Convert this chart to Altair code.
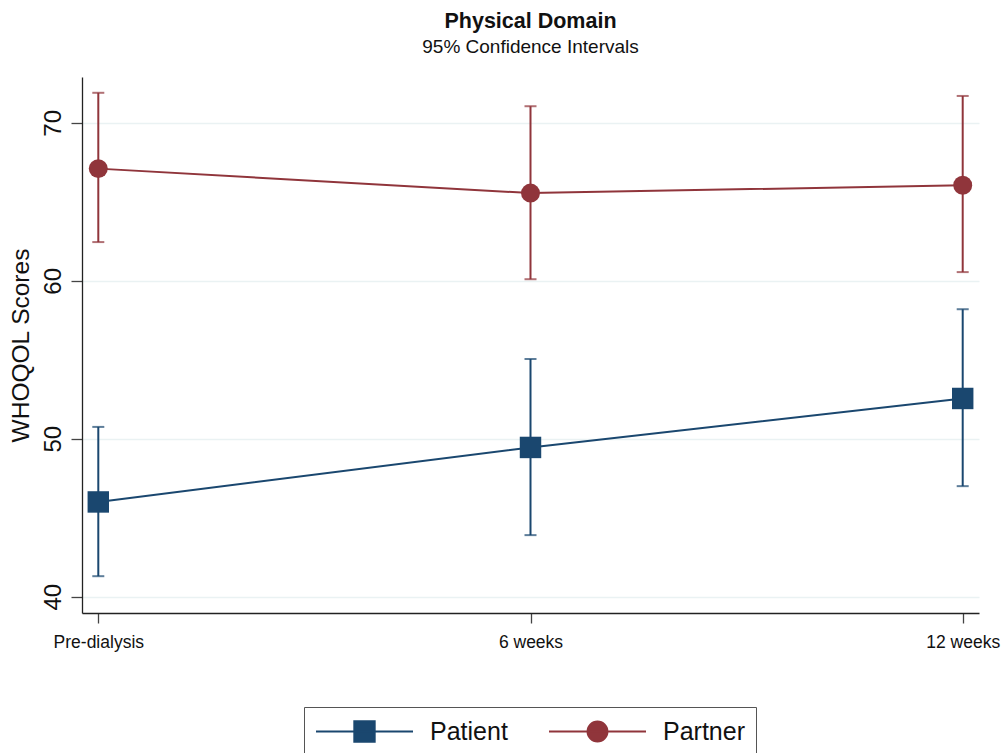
import altair as alt
import pandas as pd

# Time points and groups
timepoints = ["Pre-dialysis", "6 weeks", "12 weeks"]
series_names = ["Patient", "Partner"]
series_colors = ["#1a476f", "#90353b"]
series_shapes = ["square", "circle"]
series_marker_sizes = [460, 360]

# Mean WHOQOL physical-domain scores with 95% CI bounds
patient_mean = [46.0, 49.45, 52.55]
patient_lower = [41.3, 43.9, 47.0]
patient_upper = [50.75, 55.05, 58.2]

partner_mean = [67.1, 65.55, 66.05]
partner_lower = [62.45, 60.1, 60.55]
partner_upper = [71.9, 71.05, 71.7]

y_ticks = [40, 50, 60, 70]

rows = []
for name, means, lows, highs in [
    ("Patient", patient_mean, patient_lower, patient_upper),
    ("Partner", partner_mean, partner_lower, partner_upper),
]:
    for t, m, lo, hi in zip(timepoints, means, lows, highs):
        rows.append({"group": name, "time": t, "mean": m, "lower": lo, "upper": hi})
df = pd.DataFrame(rows)

SANS = "Liberation Sans, Arial, sans-serif"
TEXT = "#111111"

# Legend keys: a line segment with the group's marker on it
legend_square = "M-1,0H1M-0.21,-0.21H0.21V0.21H-0.21Z"
legend_circle = (
    "M-1,0H1M0.205,0C0.205,0.1132 0.1132,0.205 0,0.205"
    "C-0.1132,0.205 -0.205,0.1132 -0.205,0"
    "C-0.205,-0.1132 -0.1132,-0.205 0,-0.205"
    "C0.1132,-0.205 0.205,-0.1132 0.205,0Z"
)

x_enc = alt.X(
    "time:N",
    sort=timepoints,
    scale=alt.Scale(type="point", padding=0.0377),
    axis=alt.Axis(
        title=None,
        labelAngle=0,
        labelFont=SANS,
        labelFontSize=17.5,
        labelColor=TEXT,
        labelPadding=10,
        tickSize=10,
        tickColor="#444444",
        tickWidth=1.3,
        domainColor="#222222",
        domainWidth=1.3,
        grid=False,
    ),
)

y_scale = alt.Scale(domain=[38.97, 72.9], nice=False, zero=False)
y_axis = alt.Axis(
    title="WHOQOL Scores",
    values=y_ticks,
    labelAngle=270,
    labelAlign="center",
    labelBaseline="bottom",
    labelFont=SANS,
    labelFontSize=24,
    labelColor=TEXT,
    labelPadding=6,
    tickSize=11,
    tickColor="#444444",
    tickWidth=1.3,
    domainColor="#222222",
    domainWidth=1.3,
    grid=True,
    gridColor="#eaf2f3",
    gridWidth=1.6,
    titleFont=SANS,
    titleFontSize=24.5,
    titleFontWeight="normal",
    titleColor=TEXT,
    titlePadding=8,
)

base = alt.Chart(df)

layers = []
for name, col, shp, msize in zip(series_names, series_colors, series_shapes, series_marker_sizes):
    sub = base.transform_filter(alt.datum.group == name)
    layers += [
        # confidence interval whisker
        sub.mark_rule(color=col, strokeWidth=2).encode(
            x=x_enc, y=alt.Y("lower:Q", scale=y_scale, axis=y_axis), y2="upper:Q"
        ),
        # caps
        sub.mark_tick(color=col, size=12, thickness=2, orient="horizontal").encode(
            x=x_enc, y=alt.Y("lower:Q", scale=y_scale, axis=y_axis)
        ),
        sub.mark_tick(color=col, size=12, thickness=2, orient="horizontal").encode(
            x=x_enc, y=alt.Y("upper:Q", scale=y_scale, axis=y_axis)
        ),
        # connecting line and markers for the means
        sub.mark_line(color=col, strokeWidth=2).encode(
            x=x_enc, y=alt.Y("mean:Q", scale=y_scale, axis=y_axis)
        ),
        sub.mark_point(color=col, shape=shp, filled=True, size=msize, opacity=1).encode(
            x=x_enc, y=alt.Y("mean:Q", scale=y_scale, axis=y_axis)
        ),
    ]


def key_legend():
    return alt.Legend(
        title=None,
        orient="none",
        legendX=222,
        legendY=630,
        direction="horizontal",
        strokeColor="#555555",
        fillColor="white",
        padding=11,
        labelFont=SANS,
        labelFontSize=25,
        labelColor=TEXT,
        labelOffset=16,
        columnPadding=40,
        symbolSize=9409,
        symbolStrokeWidth=2,
        symbolOpacity=1,
        clipHeight=27,
    )


# Carries the legend (line + marker keys); its own symbols are zero-sized
legend_layer = base.mark_point(filled=True, size=0).encode(
    x=x_enc,
    y=alt.Y("mean:Q", scale=y_scale, axis=y_axis),
    fill=alt.Fill("group:N", scale=alt.Scale(domain=series_names, range=series_colors),
                  legend=key_legend()),
    stroke=alt.Stroke("group:N", scale=alt.Scale(domain=series_names, range=series_colors),
                      legend=key_legend()),
    shape=alt.Shape("group:N", scale=alt.Scale(domain=series_names, range=[legend_square, legend_circle]),
                    legend=key_legend()),
)

chart = (
    alt.layer(*layers, legend_layer)
    .properties(
        width=897,
        height=536,
        autosize=alt.AutoSizeParams(type="none"),
        padding={"left": 82, "top": 77, "right": 23, "bottom": 140},
        title=alt.TitleParams(
            text="Physical Domain",
            subtitle="95% Confidence Intervals",
            font=SANS,
            fontSize=21.5,
            fontWeight="bold",
            color=TEXT,
            subtitleFont=SANS,
            subtitleFontSize=19,
            subtitleColor=TEXT,
            subtitlePadding=6,
            anchor="middle",
            frame="group",
            offset=20,
        ),
    )
    .configure_view(stroke="transparent")
)

chart.save("out.html", embed_options={"renderer": "svg", "actions": False})
